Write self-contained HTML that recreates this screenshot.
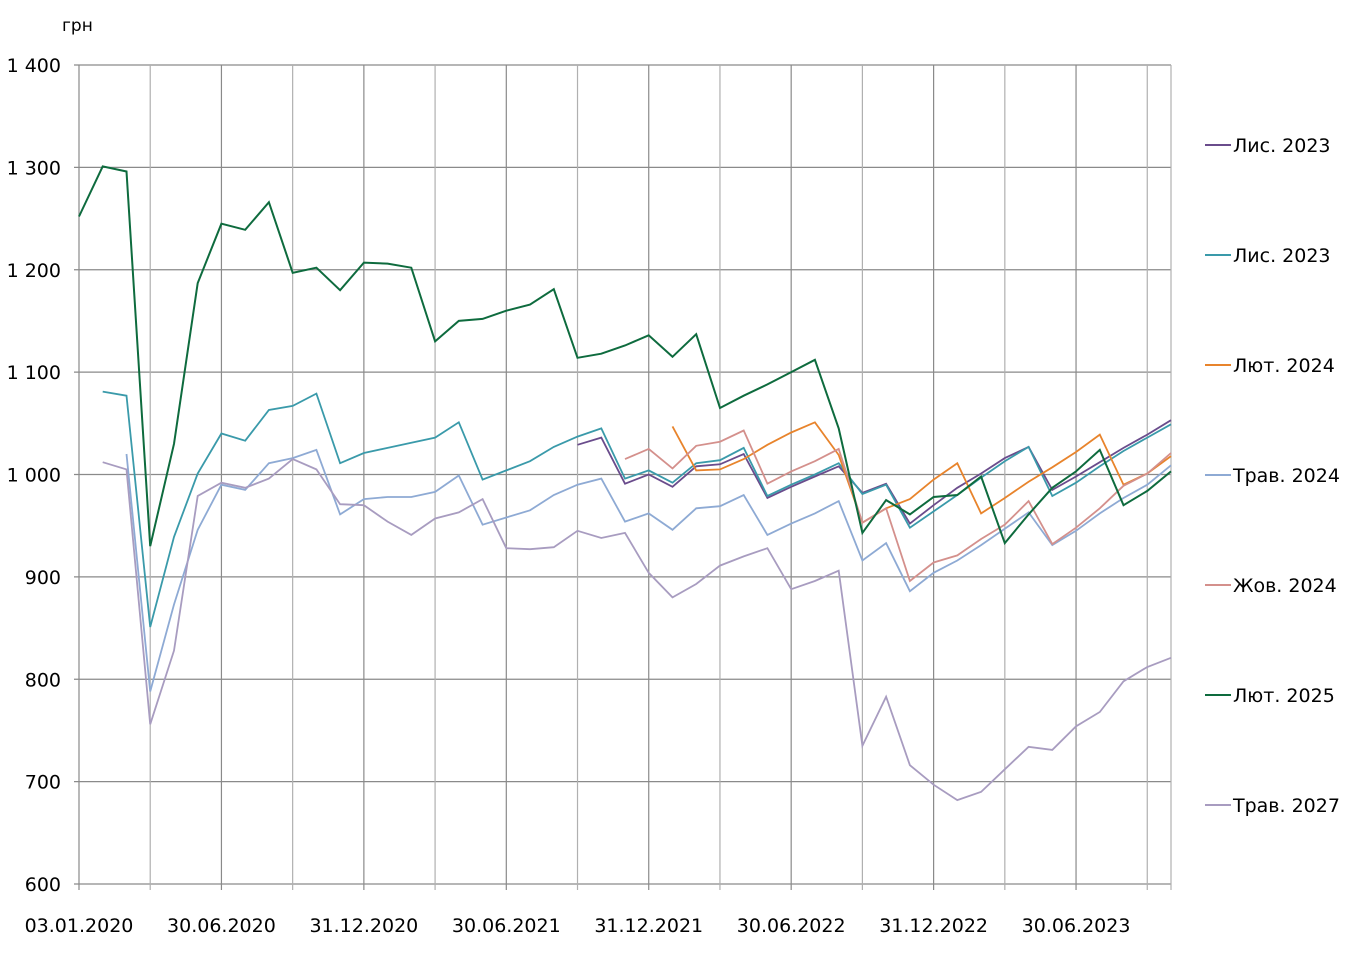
<!DOCTYPE html>
<html><head><meta charset="utf-8">
<style>
html,body{margin:0;padding:0;background:#fff;}
svg text{font-family:"DejaVu Sans","Liberation Sans",sans-serif;fill:#000;}
</style></head>
<body>
<svg id="chart" width="1354" height="957" viewBox="0 0 1354 957" xmlns="http://www.w3.org/2000/svg">
<text x="62" y="31" font-size="17">грн</text>
<g id="grid"></g>
<g id="axes"></g>
<g id="series"></g>
<g id="legend"></g>
</svg>
<script>
const xLabels = ["03.01.2020","30.06.2020","31.12.2020","30.06.2021","31.12.2021","30.06.2022","31.12.2022","30.06.2023"];
const yTicks = [600,700,800,900,1000,1100,1200,1300,1400];
const yTickLabels = ["600","700","800","900","1 000","1 100","1 200","1 300","1 400"];
const seriesNames = ["Лис. 2023","Лис. 2023","Лют. 2024","Трав. 2024","Жов. 2024","Лют. 2025","Трав. 2027"];
const seriesColors = ["#6a4c8c","#3a9aaa","#e8842c","#8eaad4","#d4908c","#0e6b3e","#a89cc0"];
const N = 47;
const sPurple = [null,null,null,null,null,null,null,null,null,null,null,null,null,null,null,null,null,null,null,null,null,1029,1036,991,1000,988,1008,1010,1020,977,988,998,1008,982,991,952,970,987,1001,1016,1027,985,998,1012,1026,1039,1053];
const sTeal = [null,1081,1077,851,939,1001,1040,1033,1063,1067,1079,1011,1021,1026,1031,1036,1051,995,1004,1013,1027,1037,1045,996,1004,992,1011,1014,1026,979,990,1000,1011,981,990,948,964,980,997,1013,1027,979,992,1008,1023,1036,1049];
const sOrange = [null,null,null,null,null,null,null,null,null,null,null,null,null,null,null,null,null,null,null,null,null,null,null,null,null,1047,1004,1005,1015,1029,1041,1051,1019,953,967,976,995,1011,962,977,993,1007,1022,1039,990,1001,1018];
const sBlue = [null,null,1020,788,873,946,990,985,1011,1016,1024,961,976,978,978,983,999,951,958,965,980,990,996,954,962,946,967,969,980,941,952,962,974,916,933,886,904,916,931,947,963,931,945,962,977,990,1009];
const sPink = [null,null,null,null,null,null,null,null,null,null,null,null,null,null,null,null,null,null,null,null,null,null,null,1015,1025,1006,1028,1032,1043,991,1003,1013,1025,953,967,896,914,921,937,951,974,932,948,967,989,1001,1021];
const sGreen = [1252,1301,1296,930,1030,1187,1245,1239,1266,1197,1202,1180,1207,1206,1202,1130,1150,1152,1160,1166,1181,1114,1118,1126,1136,1115,1137,1065,1077,1088,1100,1112,1045,943,975,961,978,980,998,933,961,987,1003,1024,970,984,1003];
const sLav = [null,1012,1005,756,828,979,992,987,996,1015,1005,971,970,954,941,957,963,976,928,927,929,945,938,943,904,880,893,911,920,928,888,896,906,735,783,716,697,682,690,712,734,731,754,768,798,812,821];
const allSeries = [sPurple,sTeal,sOrange,sBlue,sPink,sGreen,sLav];

const NS="http://www.w3.org/2000/svg";
const X0=79, X1=1171, Y0=884, Y1=65, VMIN=600, VMAX=1400;
const xs = i => X0 + (X1-X0)*i/(N-1);
const ys = v => Y0 - (v-VMIN)/(VMAX-VMIN)*(Y0-Y1);
function mk(tag, attrs, parent){const e=document.createElementNS(NS,tag);for(const k in attrs)e.setAttribute(k,attrs[k]);parent.appendChild(e);return e;}
const grid=document.getElementById('grid'), axes=document.getElementById('axes'), ser=document.getElementById('series'), leg=document.getElementById('legend');

yTicks.forEach((t,k)=>{
  const y=ys(t);
  const l=mk('line',{x1:X0-5,x2:X1,y1:y,y2:y,stroke:'#8a8a8a','stroke-width':1.2},grid);
  
  
  const tx=mk('text',{x:61,y:y+7,'font-size':19,'text-anchor':'end'},axes);
  tx.textContent=yTickLabels[k];
  
  
});
for(let i=0;i<N;i+=3){
  const x=xs(i);
  const major=(i%6===0);
  const l=mk('line',{x1:x,x2:x,y1:Y1,y2:Y0+6,stroke:major?'#8a8a8a':'#b0b0b0','stroke-width':1.2},grid);
  
  
}
mk('line',{x1:X1,x2:X1,y1:Y1,y2:Y0+6,stroke:'#b0b0b0','stroke-width':1.2},grid);
xLabels.forEach((lab,k)=>{
  const t=mk('text',{x:xs(k*6),y:932,'font-size':19,'text-anchor':'middle'},axes);
  t.textContent=lab;
  
  
});

allSeries.forEach((s,si)=>{
  let d='', pen=false;
  s.forEach((v,i)=>{
    if(v===null){pen=false;return;}
    d += (pen?'L':'M') + xs(i).toFixed(1) + ' ' + ys(v).toFixed(1) + ' ';
    pen=true;
  });
  const p=mk('path',{d:d,fill:'none',stroke:seriesColors[si],'stroke-width':si===5?2:1.8,'stroke-linejoin':'miter'},ser);
  
  
});

seriesNames.forEach((n,k)=>{
  const y=145+110*k;
  const g=mk('g',{},leg);
  
  
  mk('line',{x1:1205,x2:1231,y1:y,y2:y,stroke:seriesColors[k],'stroke-width':2},g);
  const t=mk('text',{x:1233,y:y+7,'font-size':19},g);
  t.textContent=n;
});
</script>
</body></html>
